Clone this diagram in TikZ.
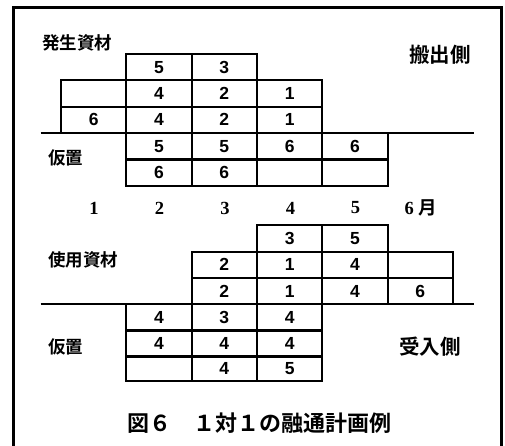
\documentclass[tikz,border=0pt]{standalone}
\usepackage{fontspec}
\newfontfamily\jp{Noto Sans CJK JP}[BoldFont=* Bold]
\newfontfamily\cellfont{Liberation Sans}
\newfontfamily\monthfont{Liberation Serif}
\begin{document}
\begin{tikzpicture}[x=1pt,y=-1pt,
  cell/.style={draw,line width=2.2pt,minimum width=65.3pt,minimum height=26.3pt,inner sep=0pt,
    font=\cellfont\bfseries\fontsize{17.5}{17.5}\selectfont},
  lbl/.style={font=\jp\bfseries\fontsize{17.5}{17.5}\selectfont,inner sep=0pt},
  side/.style={font=\jp\bfseries\fontsize{20.5}{20.5}\selectfont,inner sep=0pt},
  month/.style={font=\monthfont\bfseries\fontsize{18.5}{18.5}\selectfont,inner sep=0pt},
  axis/.style={line width=2.2pt},
  frame/.style={line width=2.2pt}]
\useasboundingbox (0,0) rectangle (505,445);
% frame
\coordinate (fbl) at (13.5,446);
\coordinate (ftl) at (13.5,7.5);
\coordinate (ftr) at (501.5,7.5);
\coordinate (fbr) at (501.5,446);
\draw[frame] (fbl) -- (ftl) -- (ftr) -- (fbr);
% ---------- upper block (搬出側) ----------
\node[lbl,anchor=west] (hassei) at (42,43) {発生資材};
\node[side,anchor=east] (hanshutsu) at (471,55) {搬出側};
% row A
\node[cell] (a2) at (159,67.2) {5};
\node[cell] (a3) at (224.3,67.2) {3};
% row B
\node[cell] (b1) at (93.7,93.5) {};
\node[cell] (b2) at (159,93.5) {4};
\node[cell] (b3) at (224.3,93.5) {2};
\node[cell] (b4) at (289.7,93.5) {1};
% row C
\node[cell] (c1) at (93.7,119.8) {6};
\node[cell] (c2) at (159,119.8) {4};
\node[cell] (c3) at (224.3,119.8) {2};
\node[cell] (c4) at (289.7,119.8) {1};
% axis
\coordinate (ax1l) at (40.5,133);
\coordinate (ax1r) at (473.5,133);
\draw[axis] (ax1l) -- (ax1r);
% row D
\node[cell] (d2) at (159,146.3) {5};
\node[cell] (d3) at (224.3,146.3) {5};
\node[cell] (d4) at (289.7,146.3) {6};
\node[cell] (d5) at (355,146.3) {6};
% row E
\node[cell] (e2) at (159,172.6) {6};
\node[cell] (e3) at (224.3,172.6) {6};
\node[cell] (e4) at (289.7,172.6) {};
\node[cell] (e5) at (355,172.6) {};
\node[lbl,anchor=west] (kari1) at (48,158) {仮置};
% ---------- months ----------
\node[month] (m1) at (94,208) {1};
\node[month] (m2) at (159.5,208) {2};
\node[month] (m3) at (225,208) {3};
\node[month] (m4) at (290.5,208) {4};
\node[month] (m5) at (355.5,208) {5};
\node[month] (m6) at (421,208) {6\hspace{5pt}{\jp\bfseries 月}};
% ---------- lower block (受入側) ----------
\node[lbl,anchor=west] (shiyou) at (48,260) {使用資材};
% row F
\node[cell] (f4) at (289.7,238.5) {3};
\node[cell] (f5) at (355,238.5) {5};
% row G
\node[cell] (g3) at (224.3,264.8) {2};
\node[cell] (g4) at (289.7,264.8) {1};
\node[cell] (g5) at (355,264.8) {4};
\node[cell] (g6) at (420.3,264.8) {};
% row H
\node[cell] (h3) at (224.3,291.1) {2};
\node[cell] (h4) at (289.7,291.1) {1};
\node[cell] (h5) at (355,291.1) {4};
\node[cell] (h6) at (420.3,291.1) {6};
% axis
\coordinate (ax2l) at (40.5,304.2);
\coordinate (ax2r) at (473.5,304.2);
\draw[axis] (ax2l) -- (ax2r);
% row I
\node[cell] (i2) at (159,317.3) {4};
\node[cell] (i3) at (224.3,317.3) {3};
\node[cell] (i4) at (289.7,317.3) {4};
% row J
\node[cell] (j2) at (159,343.4) {4};
\node[cell] (j3) at (224.3,343.4) {4};
\node[cell] (j4) at (289.7,343.4) {4};
% row K
\node[cell,minimum height=25pt] (k2) at (159,368.6) {};
\node[cell,minimum height=25pt] (k3) at (224.3,368.6) {4};
\node[cell,minimum height=25pt] (k4) at (289.7,368.6) {5};
\node[lbl,anchor=west] (kari2) at (48,347) {仮置};
\node[side,anchor=east] (ukeire) at (461,347) {受入側};
% caption
\node[font=\jp\bfseries\fontsize{22}{22}\selectfont,inner sep=0pt] (cap) at (259,423) {図６　１対１の融通計画例};
\end{tikzpicture}
\end{document}
